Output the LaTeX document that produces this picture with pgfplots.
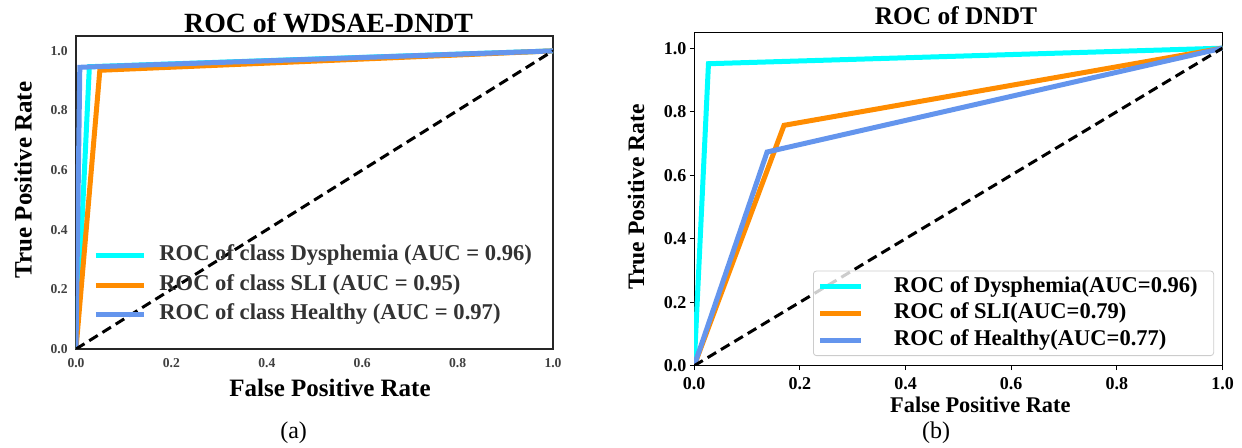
\documentclass[border=0pt]{standalone}
\usepackage{fontspec}
\setmainfont{Liberation Serif}
\usepackage{pgfplots}
\pgfplotsset{compat=1.18}

\definecolor{aqua}{HTML}{00FFFF}
\definecolor{darkorange}{HTML}{FF8C00}
\definecolor{cornflower}{HTML}{6495ED}
\definecolor{txtgray}{HTML}{333333}

\pgfplotsset{
  roc/.style={
    scale only axis,
    xmin=0, xmax=1, ymin=0, ymax=1.05,
    xtick={0,0.2,0.4,0.6,0.8,1}, ytick={0,0.2,0.4,0.6,0.8,1},
    xtick pos=bottom, ytick pos=left,
    every axis title shift=0pt,
    /pgf/number format/assume math mode=true,
    /pgf/number format/.cd, fixed, fixed zerofill, precision=1, /pgfplots/.cd,
    every tick label/.append style={inner sep=0pt},
    legend cell align=left,
    legend image code/.code={\draw[##1] (0pt,0pt) -- (24pt,0pt);},
  },
  curve/.style={line width=2.5pt, line join=miter},
  diag/.style={black, line width=1.5pt, dash pattern=on 5pt off 2.8pt, forget plot},
}

\begin{document}
\begin{tikzpicture}
\useasboundingbox (0,0) rectangle (621pt,224pt);

% (a) WDSAE-DNDT
\begin{axis}[roc,
  at={(38pt,49.5pt)}, anchor=south west,
  width=238.5pt, height=156.5pt,
  axis line style={black!85, line width=0.8pt},
  major tick length=0pt,
  tick label style={font=\bfseries\fontsize{6.8}{8}\selectfont, text=black!75},
  xticklabel style={anchor=north, yshift=-4.5pt},
  yticklabel style={anchor=east, xshift=-4pt},
  title={ROC of WDSAE-DNDT},
  title style={at={(0.5296,1.0415)}, anchor=center, font=\bfseries\fontsize{13.9}{15}\selectfont},
  xlabel={False Positive Rate},
  xlabel style={at={(0.5325,-0.1246)}, anchor=center, font=\bfseries\fontsize{12.5}{14}\selectfont},
  ylabel={True Positive Rate},
  ylabel style={at={(-0.111,0.54)}, anchor=center, font=\bfseries\fontsize{12.5}{14}\selectfont},
  legend style={at={(0.0356,0.335)}, anchor=north west, draw=none, fill=none,
    inner xsep=0pt, inner ysep=0pt, row sep=3.75pt,
    font=\bfseries\fontsize{11.3}{13}\selectfont, text=txtgray,
    nodes={inner sep=0pt, text height=8pt, text depth=3pt},
    /tikz/every odd column/.style={column sep=6.5pt}},
]
\addplot[curve, aqua] coordinates {(0,0) (0.028,0.947) (1,1)};
\addlegendentry{ROC of class Dysphemia (AUC = 0.96)}
\addplot[curve, darkorange] coordinates {(0,0) (0.05,0.935) (1,1)};
\addlegendentry{ROC of class SLI (AUC = 0.95)}
\addplot[curve, cornflower] coordinates {(0,0) (0.008,0.945) (1,1)};
\addlegendentry{ROC of class Healthy (AUC = 0.97)}
\addplot[diag] coordinates {(0,0) (1,1)};
\end{axis}

% (b) DNDT
\begin{axis}[roc,
  at={(347.1pt,41.15pt)}, anchor=south west,
  width=264.15pt, height=166.7pt,
  axis line style={black, line width=0.6pt},
  major tick length=2.2pt, tick align=outside, tick style={black, line width=0.6pt},
  tick label style={font=\bfseries\fontsize{9}{10.5}\selectfont},
  xticklabel style={anchor=north, yshift=-3.5pt},
  yticklabel style={anchor=east, xshift=-1.5pt},
  title={ROC of DNDT},
  title style={at={(0.4955,1.049)}, anchor=center, font=\bfseries\fontsize{12.7}{14}\selectfont},
  xlabel={False Positive Rate},
  xlabel style={at={(0.5417,-0.118)}, anchor=center, font=\bfseries\fontsize{11.2}{13}\selectfont},
  ylabel={True Positive Rate},
  ylabel style={at={(-0.110,0.506)}, anchor=center, font=\bfseries\fontsize{11.8}{13}\selectfont},
  legend style={at={(0.984,0.029)}, anchor=south east,
    draw=black!20, fill=white, fill opacity=0.8, text opacity=1, rounded corners=1.5pt,
    inner xsep=2pt, inner ysep=2.5pt, row sep=2.9pt,
    font=\bfseries\fontsize{11.25}{13}\selectfont,
    nodes={inner sep=0pt, text height=8pt, text depth=2.5pt},
    /tikz/every odd column/.style={column sep=15.3pt}},
  legend image code/.code={\draw[#1, line width=2.6pt] (0pt,0pt) -- (20.5pt,0pt);},
]
\addplot[curve, aqua] coordinates {(0,0) (0.027,0.951) (1,1)};
\addlegendentry{ROC of Dysphemia(AUC=0.96)\hspace*{6pt}}
\addplot[curve, darkorange] coordinates {(0,0) (0.17,0.757) (1,1)};
\addlegendentry{ROC of SLI(AUC=0.79)}
\addplot[curve, cornflower] coordinates {(0,0) (0.138,0.673) (1,1)};
\addlegendentry{ROC of Healthy(AUC=0.77)}
\addplot[diag] coordinates {(0,0) (1,1)};
\end{axis}

\node[font=\fontsize{12}{14}\selectfont] at (146.8pt,7.5pt) {(a)};
\node[font=\fontsize{12}{14}\selectfont] at (468pt,7.5pt) {(b)};
\end{tikzpicture}
\end{document}
